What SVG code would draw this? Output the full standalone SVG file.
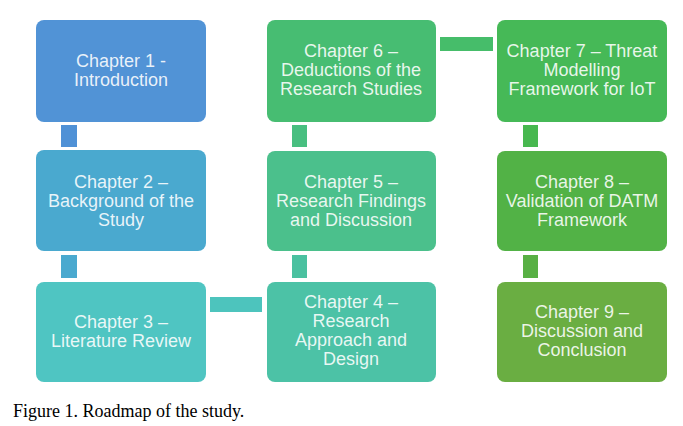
<svg xmlns="http://www.w3.org/2000/svg" width="683" height="426" viewBox="0 0 683 426">
<style>
.box{stroke:none}
.t{font-family:"Liberation Sans",Arial,sans-serif;font-size:18px;fill:#ffffff;fill-opacity:0.88;text-anchor:middle}
.cap{font-family:"Liberation Serif","Times New Roman",serif;font-size:18px;fill:#000}
</style>
<rect width="683" height="426" fill="#fff"/>
<g id="connectors">
<rect x="61" y="125" width="16" height="22" fill="#4f91d6"/>
<rect x="61" y="255" width="16" height="23" fill="#4aa9cf"/>
<rect x="210" y="297" width="52" height="15" fill="#4dc4bd"/>
<rect x="292" y="255" width="15" height="23" fill="#4ac1a0"/>
<rect x="292" y="125" width="15" height="22" fill="#48bf80"/>
<rect x="440" y="37" width="53" height="14" fill="#46bd6a"/>
<rect x="523" y="125" width="15" height="22" fill="#47b84f"/>
<rect x="523" y="255" width="15" height="23" fill="#58b044"/>
</g>
<g id="n1"><rect class="box" x="36" y="20" width="170" height="102" rx="8" fill="#5193d6"/>
<text class="t" x="121" y="67">Chapter 1 -</text><text class="t" x="121" y="86">Introduction</text></g>
<g id="n2"><rect class="box" x="36" y="150" width="170" height="101" rx="8" fill="#4aa9cf"/>
<text class="t" x="121" y="188">Chapter 2 –</text><text class="t" x="121" y="207">Background of the</text><text class="t" x="121" y="226">Study</text></g>
<g id="n3"><rect class="box" x="36" y="282" width="170" height="100" rx="8" fill="#4fc5c2"/>
<text class="t" x="121" y="328">Chapter 3 –</text><text class="t" x="121" y="347">Literature Review</text></g>
<g id="n4"><rect class="box" x="267" y="282" width="169" height="100" rx="8" fill="#4cc2a6"/>
<text class="t" x="351" y="308">Chapter 4 –</text><text class="t" x="351" y="327">Research</text><text class="t" x="351" y="346">Approach and</text><text class="t" x="351" y="365">Design</text></g>
<g id="n5"><rect class="box" x="267" y="151" width="169" height="100" rx="8" fill="#4bc08c"/>
<text class="t" x="351" y="188">Chapter 5 –</text><text class="t" x="351" y="207">Research Findings</text><text class="t" x="351" y="226">and Discussion</text></g>
<g id="n6"><rect class="box" x="267" y="20" width="169" height="102" rx="8" fill="#47bd72"/>
<text class="t" x="351" y="57">Chapter 6 –</text><text class="t" x="351" y="76">Deductions of the</text><text class="t" x="351" y="95">Research Studies</text></g>
<g id="n7"><rect class="box" x="497" y="20" width="170" height="102" rx="8" fill="#46b957"/>
<text class="t" x="582" y="57">Chapter 7 – Threat</text><text class="t" x="582" y="76">Modelling</text><text class="t" x="582" y="95">Framework for IoT</text></g>
<g id="n8"><rect class="box" x="497" y="151" width="170" height="100" rx="8" fill="#52b246"/>
<text class="t" x="582" y="188">Chapter 8 –</text><text class="t" x="582" y="207">Validation of DATM</text><text class="t" x="582" y="226">Framework</text></g>
<g id="n9"><rect class="box" x="497" y="282" width="170" height="100" rx="8" fill="#6aae42"/>
<text class="t" x="582" y="318">Chapter 9 –</text><text class="t" x="582" y="337">Discussion and</text><text class="t" x="582" y="356">Conclusion</text></g>
<text class="cap" x="13" y="417">Figure 1. Roadmap of the study.</text>
</svg>
